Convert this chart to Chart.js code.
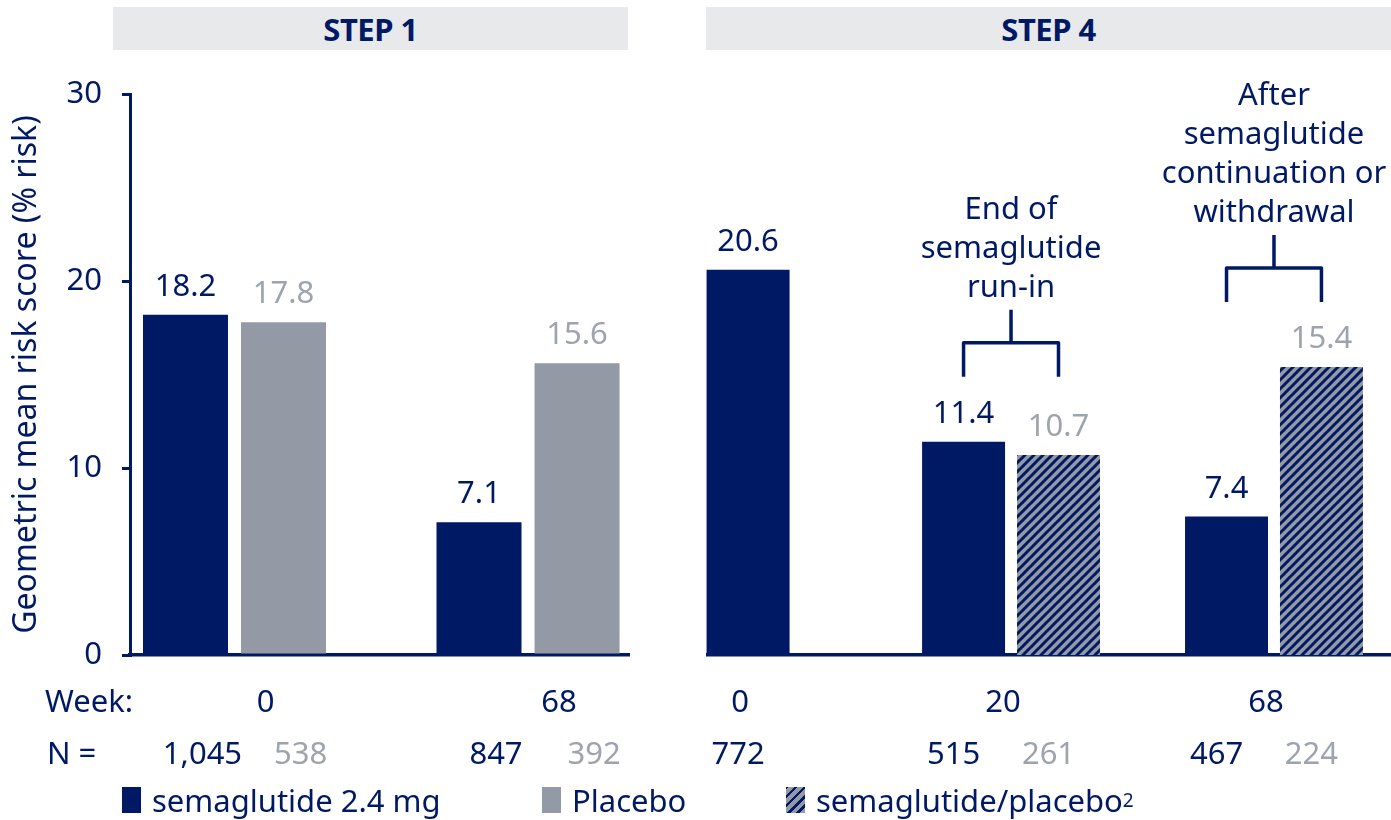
<!DOCTYPE html>
<html>
<head>
<meta charset="utf-8">
<script src="https://cdn.jsdelivr.net/npm/chart.js@4.4.1/dist/chart.umd.min.js"></script>
<style>
  html, body { margin: 0; padding: 0; background: #fff; width: 1391px; height: 820px; overflow: hidden; font-family: "Noto Sans", sans-serif; }
  .panel-title { position: absolute; top: 7px; height: 43px; background: #e8e9eb; color: #001965; font-weight: bold; font-size: 31px; letter-spacing: -0.5px; display: flex; align-items: center; justify-content: center; }
  #step1Title { left: 113px; width: 515px; }
  #step4Title { left: 706px; width: 685px; }
  #leftChart { position: absolute; left: 0; top: 0; }
  #rightChart { position: absolute; left: 706px; top: 0; }
  .legend-item { position: absolute; top: 781px; height: 38px; display: flex; align-items: center; color: #001965; font-size: 31px; white-space: nowrap; }
  .legend-item .swatch { width: 19px; height: 26px; margin-right: 11px; }
  .legend-item sup { font-size: 19px; vertical-align: 13px; line-height: 0; }
</style>
</head>
<body>
<div class="panel-title" id="step1Title">STEP 1</div>
<div class="panel-title" id="step4Title">STEP 4</div>
<canvas id="leftChart" width="640" height="780"></canvas>
<canvas id="rightChart" width="685" height="780"></canvas>

<div class="legend-item" style="left:122px"><div class="swatch" style="background:#001965"></div>semaglutide 2.4 mg</div>
<div class="legend-item" style="left:542px"><div class="swatch" style="background:#939aa5"></div>Placebo</div>
<div class="legend-item" style="left:786px"><div class="swatch" style="background:repeating-linear-gradient(-45deg,#939aa5 0 4px,#001965 4px 6.5px)"></div>semaglutide/placebo<sup>2</sup></div>

<script>
// STEP 1
const step1Weeks = ['0', '68'];
const step1Sema = [18.2, 7.1];
const step1Placebo = [17.8, 15.6];
const step1SemaN = ['1,045', '847'];
const step1PlaceboN = ['538', '392'];

// STEP 4
const step4Weeks = ['0', '20', '68'];
const step4Sema = [20.6, 11.4, 7.4];
const step4Rand = [null, 10.7, 15.4];
const step4SemaN = ['772', '515', '467'];
const step4RandN = [null, '261', '224'];
const step4Notes = [null, ['End of', 'semaglutide', 'run-in'], ['After', 'semaglutide', 'continuation or', 'withdrawal']];

const yTicks = [0, 10, 20, 30];

const navy = '#001965';
const grey = '#939aa5';
const greyText = '#9ea4ad';
const font = '"Noto Sans", sans-serif';
const textSize = 31;

function hatchPattern() {
    const c = document.createElement('canvas');
    c.width = 9; c.height = 9;
    const g = c.getContext('2d');
    g.fillStyle = grey;
    g.fillRect(0, 0, 9, 9);
    g.strokeStyle = navy;
    g.lineWidth = 3;
    for (const o of [-9, 0, 9]) {
        g.beginPath();
        g.moveTo(o - 1, 10);
        g.lineTo(o + 10, -1);
        g.stroke();
    }
    return g.createPattern(c, 'repeat');
}

const toPoints = arr => arr.map((v, i) => ({ x: i, y: v }));

// value labels, week / N rows and bracket notes
const annotate = {
    id: 'annotate',
    afterDatasetsDraw(chart, args, opts) {
        const { ctx, scales: { x, y } } = chart;
        ctx.save();
        ctx.font = textSize + 'px ' + font;
        ctx.textAlign = 'center';
        chart.data.datasets.forEach((ds, di) => {
            const meta = chart.getDatasetMeta(di);
            meta.data.forEach((bar, i) => {
                const v = ds.data[i].y;
                if (v == null) return;
                ctx.fillStyle = ds.labelColor;
                ctx.textBaseline = 'alphabetic';
                ctx.fillText(v.toFixed(1), bar.x, bar.y - 19);
                ctx.textBaseline = 'middle';
                ctx.fillText(ds.counts[i], bar.x + opts.nShift, opts.nY);
            });
        });

        ctx.fillStyle = navy;
        ctx.textBaseline = 'middle';
        opts.weeks.forEach((w, i) => ctx.fillText(w, x.getPixelForValue(i) + opts.weekShift, opts.weekY));
        if (opts.rowLabels) {
            ctx.textAlign = 'left';
            ctx.fillText('Week:', 45, opts.weekY);
            ctx.fillText('N =', 47, opts.nY);
        }

        (opts.notes || []).forEach((lines, i) => {
            if (!lines) return;
            const bars = chart.data.datasets.map((ds, di) => chart.getDatasetMeta(di).data[i]);
            const vals = chart.data.datasets.map(ds => ds.data[i].y);
            const legY = y.getPixelForValue(Math.max(...vals)) - 65;
            const x1 = bars[0].x, x2 = bars[1].x, xm = (x1 + x2) / 2;
            const barY = legY - 34, stemY = barY - 33;
            ctx.strokeStyle = navy;
            ctx.lineWidth = 3.5;
            ctx.lineJoin = 'round';
            ctx.beginPath();
            ctx.moveTo(x1, legY);
            ctx.lineTo(x1, barY);
            ctx.lineTo(x2, barY);
            ctx.lineTo(x2, legY);
            ctx.moveTo(xm, barY);
            ctx.lineTo(xm, stemY);
            ctx.stroke();
            ctx.textAlign = 'center';
            ctx.textBaseline = 'alphabetic';
            lines.forEach((t, k) => ctx.fillText(t, xm, stemY - 13 - (lines.length - 1 - k) * 39));
        });
        ctx.restore();
    }
};

function yScale(show) {
    return {
        display: show,
        min: 0, max: 30,
        afterBuildTicks: s => { s.ticks = yTicks.map(v => ({ value: v })); },
        afterFit: s => { if (show) s.width = 130; },
        ticks: { color: navy, font: { size: textSize, family: font }, padding: 20 },
        grid: { drawOnChartArea: false, color: navy, lineWidth: 3, tickLength: 8 },
        border: { color: navy, width: 3 },
        title: {
            display: show,
            text: 'Geometric mean risk score (% risk)',
            color: navy,
            font: { size: 32, family: font },
            padding: { top: 8, bottom: 0 }
        }
    };
}

function xScale(min, max, count) {
    return {
        type: 'linear',
        offset: false,
        min: min, max: max,
        afterBuildTicks: s => { s.ticks = Array.from({ length: count }, (_, i) => ({ value: i })); },
        afterFit: s => { s.height = 0; },
        ticks: { display: false },
        grid: { display: false, drawTicks: false },
        border: { color: navy, width: 3.5 }
    };
}

const common = {
    responsive: false,
    animation: false,
    events: [],
    plugins: { legend: { display: false }, tooltip: { enabled: false } }
};

new Chart(document.getElementById('leftChart'), {
    type: 'bar',
    data: {
        datasets: [
            { label: 'semaglutide 2.4 mg', data: toPoints(step1Sema), backgroundColor: navy, labelColor: navy, counts: step1SemaN },
            { label: 'Placebo', data: toPoints(step1Placebo), backgroundColor: grey, labelColor: greyText, counts: step1PlaceboN }
        ]
    },
    options: {
        ...common,
        layout: { padding: { top: 94, bottom: 125, left: 0, right: 11 } },
        datasets: { bar: { categoryPercentage: 0.668, barPercentage: 0.867 } },
        scales: { x: xScale(-0.356, 1.344, step1Weeks.length), y: yScale(true) },
        plugins: {
            ...common.plugins,
            annotate: { weeks: step1Weeks, weekShift: 31, weekY: 703, nShift: 17, nY: 755, rowLabels: true }
        }
    },
    plugins: [annotate]
});

new Chart(document.getElementById('rightChart'), {
    type: 'bar',
    data: {
        datasets: [
            { label: 'semaglutide 2.4 mg', data: toPoints(step4Sema), backgroundColor: navy, labelColor: navy, counts: step4SemaN },
            { label: 'semaglutide/placebo', data: toPoints(step4Rand), backgroundColor: hatchPattern(), labelColor: greyText, counts: step4RandN }
        ]
    },
    options: {
        ...common,
        layout: { padding: { top: 94, bottom: 125, left: 0, right: 0 } },
        datasets: { bar: { categoryPercentage: 0.722, barPercentage: 0.874, maxBarThickness: 83, skipNull: true } },
        scales: { x: xScale(-0.16, 2.445, step4Weeks.length), y: yScale(false) },
        plugins: {
            ...common.plugins,
            annotate: { weeks: step4Weeks, weekShift: -8, weekY: 703, nShift: -10, nY: 755, notes: step4Notes }
        }
    },
    plugins: [annotate]
});
</script>
</body>
</html>
